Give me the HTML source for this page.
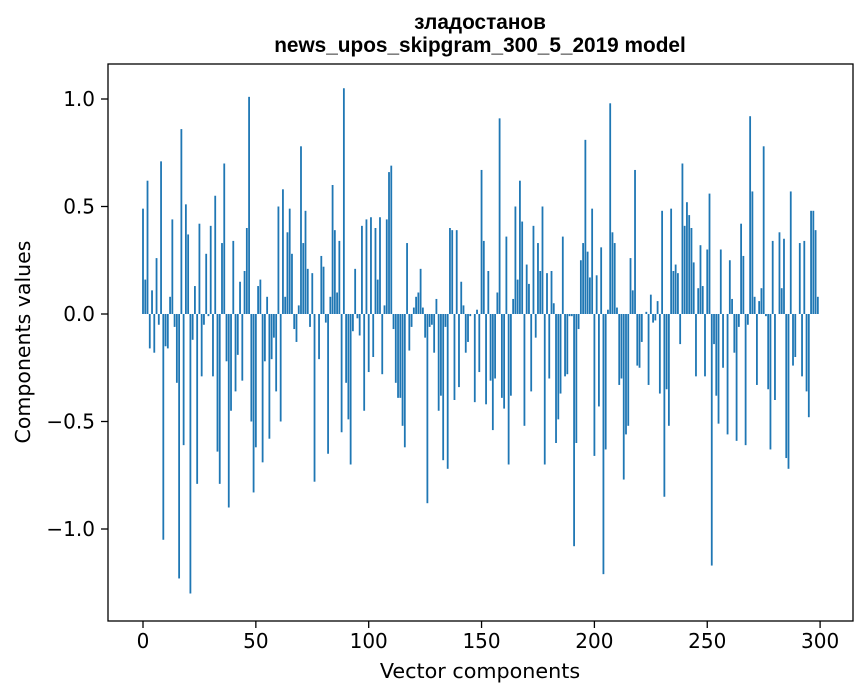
<!DOCTYPE html>
<html><head><meta charset="utf-8"><style>
html,body{margin:0;padding:0;background:#fff;}
svg{display:block;font-family:"DejaVu Sans","Liberation Sans",sans-serif;}
</style></head><body>
<svg id="chart" width="867" height="696" viewBox="0 0 867 696">
<text x="480" y="29" text-anchor="middle" font-size="20.8" font-weight="bold" font-family="Liberation Sans, sans-serif">зладостанов</text>
<text x="480" y="52" text-anchor="middle" font-size="20.8" font-weight="bold" font-family="Liberation Sans, sans-serif">news_upos_skipgram_300_5_2019 model</text>
<g id="bars"></g>
<g id="axes"></g>
<rect x="108" y="64" width="745" height="557" fill="none" stroke="#000" stroke-width="1.3"/>
<text x="480" y="678" text-anchor="middle" font-size="20.7">Vector components</text>
<text x="0" y="0" transform="translate(30,342) rotate(-90)" text-anchor="middle" font-size="20.5">Components values</text>
</svg>
<script>
const values = [0.49,0.16,0.62,-0.16,0.11,-0.18,0.26,-0.05,0.71,-1.05,-0.15,-0.16,0.08,0.44,-0.06,-0.32,-1.23,0.86,-0.61,0.51,0.37,-1.30,-0.12,0.13,-0.79,0.42,-0.29,-0.05,0.28,-0.01,0.41,-0.29,0.55,-0.64,-0.79,0.33,0.70,-0.22,-0.90,-0.45,0.34,-0.36,-0.19,0.15,-0.31,0.20,0.40,1.01,-0.50,-0.83,-0.62,0.13,
0.16,-0.69,-0.22,0.08,-0.58,-0.21,-0.11,-0.36,0.50,-0.50,0.58,0.08,0.38,0.49,0.28,-0.07,-0.13,0.04,0.78,0.33,0.48,0.21,-0.06,0.19,-0.78,0,-0.21,0.27,0.22,-0.04,-0.65,0.08,0.60,0.39,0.10,0.34,-0.55,1.05,-0.32,-0.49,-0.70,-0.08,0.21,-0.02,-0.10,0.41,-0.45,0.44,
-0.27,0.45,-0.20,0.40,0.16,0.45,-0.28,0.04,0.44,0.66,0.69,-0.07,-0.32,-0.39,-0.39,-0.52,-0.62,0.33,-0.17,-0.06,0.03,0.08,0.10,0.21,0.03,-0.11,-0.88,-0.06,-0.05,-0.18,0.07,-0.45,-0.38,-0.68,-0.06,-0.72,0.40,0.39,-0.40,0.39,-0.34,0.15,0.04,-0.18,-0.13,-0.01,0,-0.41,0.02,-0.27,0.67,
0.34,-0.42,0.20,-0.31,-0.54,-0.30,0.10,0.91,-0.39,-0.44,0.36,-0.70,-0.38,0.07,0.50,0.16,0.62,0.43,-0.52,0.23,0.14,-0.36,0.41,-0.11,0.33,0.20,0.50,-0.70,0.19,-0.30,0.20,0.05,-0.60,-0.49,-0.37,0.36,-0.29,-0.28,-0.01,-0.01,-1.08,-0.60,-0.07,0.25,0.33,0.81,0.29,0.17,0.49,-0.66,0.18,
-0.43,0.31,-1.21,-0.63,0.02,0.98,0.38,0.33,0.03,-0.33,-0.30,-0.77,-0.56,-0.52,0.26,0.11,0.67,-0.24,-0.25,-0.13,0,0.01,-0.33,0.09,-0.04,-0.03,0.06,-0.37,0.48,-0.85,-0.35,-0.52,0.49,0.20,0.23,0.19,-0.14,0.70,0.41,0.52,0.46,0.40,0.24,-0.29,0.12,0.32,0.13,-0.29,0.30,0.56,-1.17,
-0.14,-0.38,-0.51,0.30,-0.25,0,-0.56,0.25,0.07,-0.18,-0.59,-0.06,0.42,0.27,-0.61,-0.05,0.92,0.57,0.08,-0.33,0.06,0.12,0.78,-0.01,-0.35,-0.63,0.34,-0.40,0,0.38,0.12,0.35,-0.67,-0.72,0.57,-0.24,-0.20,0,0.33,-0.29,0.34,-0.36,-0.48,0.48,0.48,0.39,0.08];
const xTicks = [0,50,100,150,200,250,300];
const yTicks = [-1.0,-0.5,0.0,0.5,1.0];
const yTickLabels = ["\u22121.0","\u22120.5","0.0","0.5","1.0"];

const NS="http://www.w3.org/2000/svg";
function xs(v){return 143+v*2.257;}
function ys(v){return 314-v*215;}
const bars=document.getElementById('bars');
values.forEach((v,i)=>{
  const r=document.createElementNS(NS,'rect');
  const y0=ys(Math.max(v,0)), y1=ys(Math.min(v,0));
  r.setAttribute('x',xs(i)-0.9);
  r.setAttribute('width',1.8);
  r.setAttribute('y',y0);
  r.setAttribute('height',Math.max(y1-y0,0.01));
  r.setAttribute('fill','#1f77b4');
  
  
  bars.appendChild(r);
});
const axes=document.getElementById('axes');
xTicks.forEach(t=>{
  const l=document.createElementNS(NS,'line');
  l.setAttribute('x1',xs(t));l.setAttribute('x2',xs(t));
  l.setAttribute('y1',621);l.setAttribute('y2',628);
  l.setAttribute('stroke','#000');l.setAttribute('stroke-width','1.3');
  
  
  axes.appendChild(l);
  const tx=document.createElementNS(NS,'text');
  tx.setAttribute('x',xs(t));tx.setAttribute('y',648);
  tx.setAttribute('text-anchor','middle');tx.setAttribute('font-size','20');
  tx.textContent=t;
  
  
  axes.appendChild(tx);
});
yTicks.forEach((t,k)=>{
  const l=document.createElementNS(NS,'line');
  l.setAttribute('x1',101);l.setAttribute('x2',108);
  l.setAttribute('y1',ys(t));l.setAttribute('y2',ys(t));
  l.setAttribute('stroke','#000');l.setAttribute('stroke-width','1.3');
  
  
  axes.appendChild(l);
  const tx=document.createElementNS(NS,'text');
  tx.setAttribute('x',95);tx.setAttribute('y',ys(t)+7);
  tx.setAttribute('text-anchor','end');tx.setAttribute('font-size','20');
  tx.textContent=yTickLabels[k];
  
  
  axes.appendChild(tx);
});
</script>
</body></html>
